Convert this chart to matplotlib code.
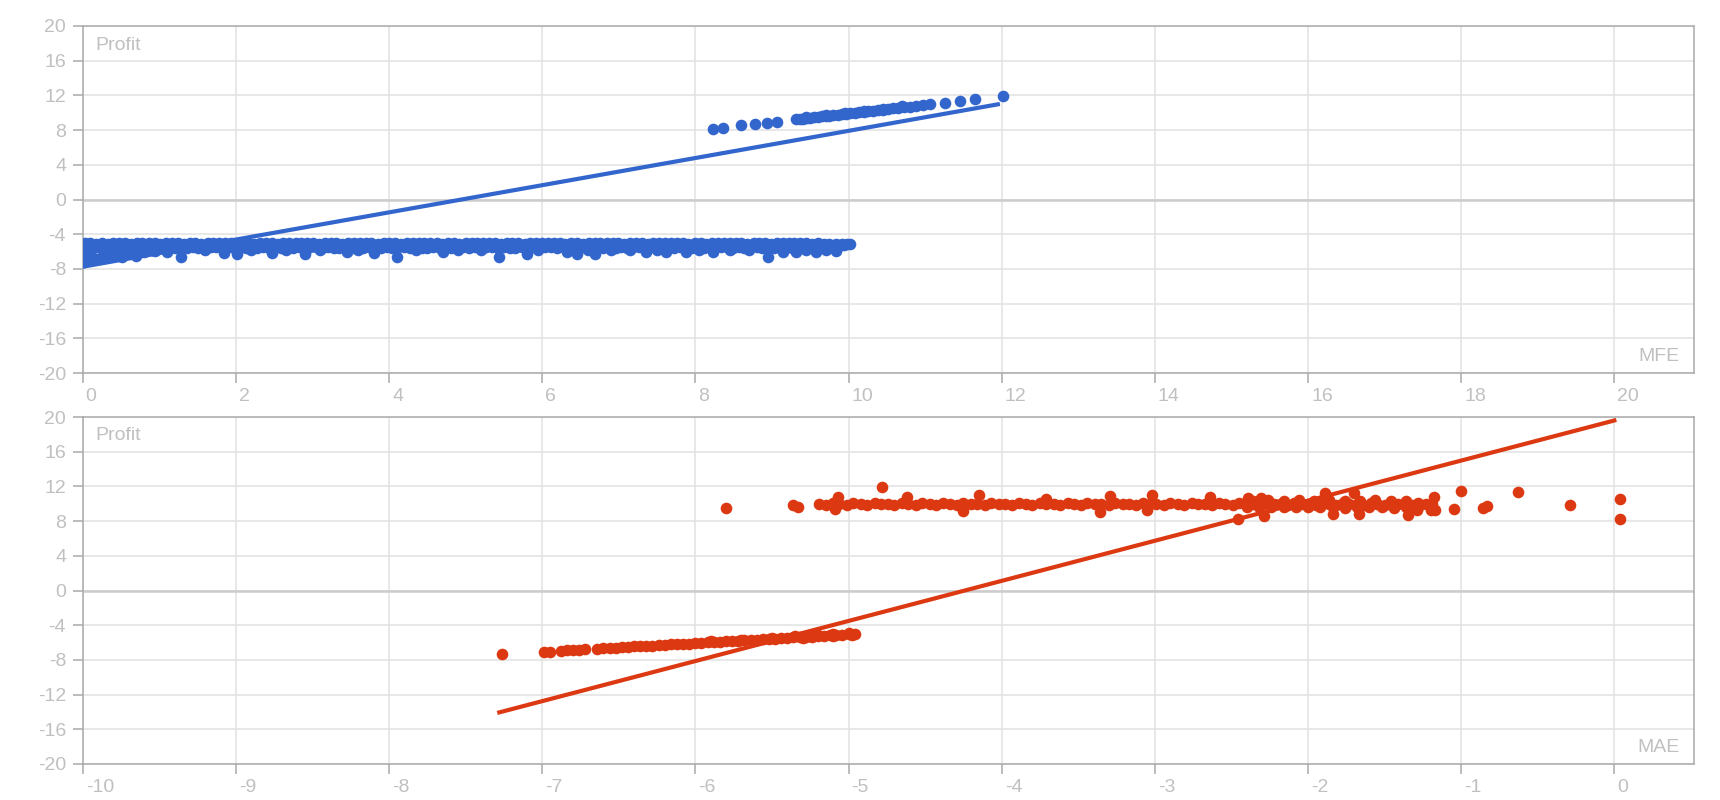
import numpy as np
import matplotlib.pyplot as plt
import matplotlib.transforms as mtransforms

plt.rcParams['font.family'] = ['Liberation Sans', 'DejaVu Sans']
plt.rcParams['axes.unicode_minus'] = False

BLUE = '#3366cc'
RED = '#dc3912'

# ---- MFE vs Profit (top chart) ----
mfe_band_top = [
    (0.03, -5.05), (0.10, -5.02), (0.17, -5.08), (0.25, -5.04), (0.33, -5.10), (0.40, -5.03), (0.48, -5.06), (0.55, -5.01), (0.63, -5.09), (0.71, -5.04),
    (0.78, -5.07), (0.86, -5.03), (0.94, -5.05), (1.01, -5.11), (1.09, -5.02), (1.17, -5.06), (1.24, -5.04), (1.32, -5.08), (1.40, -5.03), (1.47, -5.05),
    (1.55, -5.09), (1.63, -5.02), (1.70, -5.06), (1.78, -5.04), (1.86, -5.07), (1.93, -5.03), (2.01, -5.10), (2.09, -5.05), (2.16, -5.02), (2.24, -5.08),
    (2.32, -5.04), (2.39, -5.06), (2.47, -5.03), (2.55, -5.09), (2.62, -5.05), (2.70, -5.02), (2.78, -5.07), (2.85, -5.04), (2.93, -5.06), (3.01, -5.03),
    (3.08, -5.08), (3.16, -5.05), (3.24, -5.02), (3.31, -5.06), (3.39, -5.10), (3.47, -5.04), (3.54, -5.03), (3.62, -5.07), (3.70, -5.05), (3.77, -5.02),
    (3.85, -5.09), (3.93, -5.04), (4.00, -5.06), (4.08, -5.03), (4.16, -5.08), (4.23, -5.05), (4.31, -5.02), (4.39, -5.07), (4.46, -5.04), (4.54, -5.06),
    (4.62, -5.03), (4.69, -5.09), (4.77, -5.05), (4.85, -5.02), (4.92, -5.08), (5.00, -5.04), (5.08, -5.06), (5.15, -5.03), (5.23, -5.07), (5.31, -5.05),
    (5.38, -5.02), (5.46, -5.10), (5.54, -5.04), (5.61, -5.06), (5.69, -5.03), (5.77, -5.08), (5.84, -5.05), (5.92, -5.02), (6.00, -5.07), (6.07, -5.04),
    (6.15, -5.06), (6.23, -5.03), (6.30, -5.09), (6.38, -5.05), (6.46, -5.02), (6.53, -5.08), (6.61, -5.04), (6.69, -5.06), (6.76, -5.03), (6.84, -5.07),
    (6.92, -5.05), (6.99, -5.02), (7.07, -5.09), (7.15, -5.04), (7.22, -5.06), (7.30, -5.03), (7.38, -5.08), (7.45, -5.05), (7.53, -5.02), (7.61, -5.07),
    (7.68, -5.04), (7.76, -5.06), (7.84, -5.03), (7.91, -5.10), (7.99, -5.05), (8.07, -5.02), (8.14, -5.08), (8.22, -5.04), (8.30, -5.06), (8.37, -5.03),
    (8.45, -5.07), (8.53, -5.05), (8.60, -5.02), (8.68, -5.09), (8.76, -5.04), (8.83, -5.06), (8.91, -5.03), (8.99, -5.08), (9.06, -5.05), (9.14, -5.02),
    (9.22, -5.07), (9.29, -5.04), (9.37, -5.06), (9.45, -5.03), (9.52, -5.09), (9.60, -5.05), (9.68, -5.08), (9.75, -5.10), (9.83, -5.12), (9.91, -5.10),
    (9.98, -5.13),
]
mfe_band_bottom = [
    (0.06, -5.50), (0.14, -5.56), (0.21, -5.47), (0.29, -5.58), (0.37, -5.52), (0.44, -5.60), (0.52, -5.48), (0.60, -5.55), (0.67, -5.62), (0.75, -5.50),
    (0.82, -5.57), (0.90, -5.46), (0.98, -5.54), (1.05, -5.60), (1.13, -5.49), (1.21, -5.56), (1.28, -5.51), (1.36, -5.58), (1.44, -5.47), (1.51, -5.55),
    (1.59, -5.61), (1.67, -5.50), (1.74, -5.53), (1.82, -5.59), (1.90, -5.48), (1.97, -5.56), (2.05, -5.52), (2.13, -5.60), (2.20, -5.47), (2.28, -5.54),
    (2.36, -5.50), (2.43, -5.58), (2.51, -5.46), (2.59, -5.55), (2.66, -5.51), (2.74, -5.59), (2.82, -5.49), (2.89, -5.56), (2.97, -5.52), (3.05, -5.47),
    (3.12, -5.57), (3.20, -5.50), (3.28, -5.54), (3.35, -5.61), (3.43, -5.48), (3.51, -5.55), (3.58, -5.51), (3.66, -5.58), (3.74, -5.46), (3.81, -5.53),
    (3.89, -5.60), (3.97, -5.49), (4.04, -5.56), (4.12, -5.52), (4.20, -5.47), (4.27, -5.57), (4.35, -5.50), (4.43, -5.54), (4.50, -5.59), (4.58, -5.48),
    (4.66, -5.55), (4.73, -5.51), (4.81, -5.58), (4.89, -5.46), (4.96, -5.53), (5.04, -5.60), (5.12, -5.49), (5.19, -5.56), (5.27, -5.52), (5.35, -5.47),
    (5.42, -5.57), (5.50, -5.50), (5.58, -5.54), (5.65, -5.59), (5.73, -5.48), (5.81, -5.55), (5.88, -5.51), (5.96, -5.58), (6.04, -5.46), (6.11, -5.53),
    (6.19, -5.60), (6.27, -5.49), (6.34, -5.56), (6.42, -5.52), (6.50, -5.47), (6.57, -5.57), (6.65, -5.50), (6.73, -5.54), (6.80, -5.59), (6.88, -5.48),
    (6.96, -5.55), (7.03, -5.51), (7.11, -5.58), (7.19, -5.46), (7.26, -5.53), (7.34, -5.60), (7.42, -5.49), (7.49, -5.56), (7.57, -5.52), (7.65, -5.47),
    (7.72, -5.57), (7.80, -5.50), (7.88, -5.54), (7.95, -5.59), (8.03, -5.48), (8.11, -5.55), (8.18, -5.51), (8.26, -5.58), (8.34, -5.46), (8.41, -5.53),
    (8.49, -5.60), (8.57, -5.49), (8.64, -5.56), (8.72, -5.52), (8.80, -5.47), (8.87, -5.57), (8.95, -5.50), (9.03, -5.54), (9.10, -5.59), (9.18, -5.48),
    (9.26, -5.55), (9.33, -5.51), (9.41, -5.58), (9.49, -5.46), (9.56, -5.53), (9.64, -5.50), (9.72, -5.45), (9.79, -5.42), (9.87, -5.38), (9.94, -5.30),
]
mfe_band_low = [
    (0.00, -5.30), (0.00, -5.90), (0.01, -6.40), (0.01, -6.90), (0.02, -7.25), (0.05, -6.95), (0.07, -6.60), (0.10, -6.30),
    (0.14, -6.70), (0.23, -6.75), (0.30, -6.35), (0.40, -6.40), (0.51, -6.60), (0.58, -6.15), (0.70, -6.55), (0.80, -6.05),
    (0.95, -5.95), (1.10, -6.05), (1.29, -6.60), (1.84, -6.15), (2.01, -6.25), (2.47, -6.15), (2.90, -6.30), (3.45, -6.10),
    (3.80, -6.20), (4.10, -6.60), (4.71, -6.10), (5.44, -6.60), (5.80, -6.25), (6.32, -6.10), (6.45, -6.30), (6.69, -6.30),
    (7.36, -6.00), (7.62, -6.00), (7.88, -6.00), (8.23, -6.00), (8.95, -6.60), (9.15, -6.00), (9.32, -6.10), (9.58, -6.00),
    (9.84, -5.90), (0.35, -5.85), (0.90, -5.80), (1.60, -5.85), (2.20, -5.80), (2.65, -5.85), (3.10, -5.80), (3.60, -5.85),
    (4.35, -5.80), (4.90, -5.85), (5.20, -5.80), (5.95, -5.85), (6.60, -5.80), (6.90, -5.85), (7.15, -5.80), (7.50, -5.85),
    (8.05, -5.80), (8.45, -5.85), (8.70, -5.80), (9.45, -5.85), (9.70, -5.80), (10.02, -5.13),
]
mfe_upper = [
    (8.23, 8.13), (8.36, 8.24), (8.59, 8.55), (8.78, 8.70), (8.94, 8.86), (9.06, 8.97),
    (9.32, 9.24), (9.36, 9.30), (9.41, 9.31), (9.46, 9.38), (9.50, 9.40), (9.55, 9.47), (9.60, 9.50), (9.65, 9.57),
    (9.70, 9.60), (9.75, 9.68), (9.80, 9.71), (9.86, 9.78), (9.91, 9.82), (9.97, 9.88), (10.02, 9.93), (10.08, 10.00),
    (10.14, 10.05), (10.20, 10.12), (10.26, 10.17), (10.32, 10.24), (10.38, 10.29), (10.45, 10.36), (10.52, 10.42),
    (10.58, 10.49), (10.65, 10.55), (10.72, 10.62), (10.80, 10.70), (10.88, 10.78), (10.97, 10.87), (11.06, 10.97),
    (9.45, 9.47), (9.70, 9.72), (9.95, 9.97), (10.20, 10.22), (10.45, 10.47), (10.70, 10.73),
    (11.26, 11.16), (11.46, 11.35), (11.65, 11.55), (12.02, 11.97),
]
mfe_trend_x = [0.0, 11.95]
mfe_trend_y = [-7.75, 10.97]

# ---- MAE vs Profit (bottom chart) ----
mae_band_low = [
    (-7.26, -7.32), (-6.99, -7.05), (-6.95, -7.04),
    (-6.88, -6.94), (-6.84, -6.91), (-6.80, -6.85), (-6.76, -6.83), (-6.72, -6.78),
    (-6.64, -6.70), (-6.60, -6.67), (-6.56, -6.61), (-6.52, -6.59), (-6.48, -6.53), (-6.44, -6.51), (-6.40, -6.45), (-6.36, -6.43),
    (-6.32, -6.37), (-6.28, -6.35), (-6.24, -6.29), (-6.20, -6.27), (-6.16, -6.21), (-6.12, -6.19), (-6.08, -6.13), (-6.04, -6.11),
    (-6.00, -6.05), (-5.96, -6.03), (-5.92, -5.97), (-5.88, -5.95), (-5.84, -5.89), (-5.80, -5.87), (-5.76, -5.81), (-5.72, -5.79),
    (-5.68, -5.73), (-5.64, -5.71), (-5.60, -5.65), (-5.56, -5.63), (-5.52, -5.57), (-5.48, -5.55), (-5.44, -5.49), (-5.40, -5.47),
    (-5.36, -5.41), (-5.32, -5.39), (-5.28, -5.33), (-5.24, -5.31), (-5.20, -5.25), (-5.16, -5.23), (-5.12, -5.17), (-5.08, -5.15),
    (-5.04, -5.09), (-5.00, -5.07), (-4.96, -5.01),
    (-5.90, -5.85), (-5.70, -5.66), (-5.50, -5.46), (-5.35, -5.30), (-5.20, -5.14), (-5.10, -5.02), (-5.00, -4.93),
    (-5.30, -5.48), (-5.10, -5.28), (-4.98, -5.12),
]
mae_band_high = [
    (-5.19, 10.02), (-5.15, 9.90), (-5.10, 10.08), (-5.06, 9.94), (-5.01, 9.85), (-4.97, 10.05), (-4.92, 9.97), (-4.88, 9.88), (-4.83, 10.10), (-4.79, 9.92),
    (-4.74, 10.00), (-4.70, 9.86), (-4.65, 10.06), (-4.61, 9.95), (-4.56, 9.89), (-4.52, 10.08), (-4.47, 9.93), (-4.43, 9.84), (-4.38, 10.03), (-4.34, 9.96),
    (-4.29, 9.87), (-4.25, 10.07), (-4.20, 9.94), (-4.16, 10.01), (-4.11, 9.86), (-4.07, 10.09), (-4.02, 9.92), (-3.98, 9.98), (-3.93, 9.85), (-3.89, 10.05),
    (-3.84, 9.95), (-3.80, 9.88), (-3.75, 10.08), (-3.71, 9.93), (-3.66, 10.00), (-3.62, 9.86), (-3.57, 10.06), (-3.53, 9.96), (-3.48, 9.89), (-3.44, 10.04),
    (-3.39, 9.92), (-3.35, 9.99), (-3.30, 9.85), (-3.26, 10.07), (-3.21, 9.94), (-3.17, 10.02), (-3.12, 9.87), (-3.08, 10.09), (-3.03, 9.93), (-2.99, 9.97),
    (-2.94, 9.86), (-2.90, 10.05), (-2.85, 9.95), (-2.81, 9.88), (-2.76, 10.08), (-2.72, 9.92), (-2.67, 10.01), (-2.63, 9.85), (-2.58, 10.06), (-2.54, 9.96),
    (-2.49, 9.89), (-2.45, 10.04), (-2.40, 9.93), (-2.36, 10.00), (-2.31, 9.86), (-2.27, 10.07), (-2.22, 9.94), (-2.18, 10.02), (-2.13, 9.87), (-2.09, 10.09),
    (-2.04, 9.93), (-2.00, 9.97), (-1.95, 9.86), (-1.91, 10.05), (-1.86, 9.95), (-1.82, 9.88), (-1.77, 10.08), (-1.73, 9.92), (-1.68, 10.01), (-1.64, 9.85),
    (-1.59, 10.06), (-1.55, 9.96), (-1.50, 9.89), (-1.46, 10.04), (-1.41, 9.93), (-1.37, 10.00), (-1.32, 9.86), (-1.28, 10.07), (-1.23, 9.94), (-1.19, 10.02),
    (-2.40, 9.60), (-2.32, 9.65), (-2.24, 9.58), (-2.16, 9.63), (-2.08, 9.57), (-2.00, 9.64), (-1.92, 9.59), (-1.84, 9.62),
    (-1.76, 9.56), (-1.68, 9.63), (-1.60, 9.58), (-1.52, 9.61), (-1.44, 9.55), (-1.36, 9.62), (-1.28, 9.57), (-1.20, 9.60),
    (-2.36, 10.35), (-2.26, 10.40), (-2.16, 10.33), (-2.06, 10.38), (-1.96, 10.34), (-1.86, 10.41), (-1.76, 10.36), (-1.66, 10.32),
    (-1.56, 10.38), (-1.46, 10.33), (-1.36, 10.37),
]
mae_scatter = [
    (-5.80, 9.50), (-5.36, 9.85), (-5.33, 9.65), (-4.78, 11.97),
    (-5.07, 10.80), (-4.62, 10.80), (-4.15, 11.00), (-3.71, 10.60), (-3.29, 10.90), (-3.02, 11.00), (-2.64, 10.80),
    (-2.39, 10.70), (-2.31, 10.70), (-1.89, 11.20), (-1.70, 11.25), (-1.18, 10.80),
    (-5.09, 9.36), (-4.25, 9.20), (-3.36, 9.10), (-3.05, 9.30), (-1.84, 8.85), (-1.67, 8.85), (-1.35, 8.65),
    (-1.29, 9.30), (-1.20, 9.30), (-1.17, 9.30), (-2.46, 8.20), (-2.29, 8.55),
    (-1.00, 11.50), (-1.05, 9.40), (-0.86, 9.47), (-0.83, 9.78), (-0.63, 11.35), (-0.29, 9.86),
    (0.035, 10.55), (0.035, 8.24),
]
mae_trend_x = [-7.28, 0.0]
mae_trend_y = [-14.05, 19.6]

y_ticks = list(range(-20, 21, 4))
mfe_ticks = list(range(0, 21, 2))
mae_ticks = list(range(-10, 1, 1))


def style(ax, xticks, xlim, name):
    ax.set_xlim(*xlim)
    ax.set_ylim(-20, 20)
    ax.set_xticks(xticks)
    ax.set_yticks(y_ticks)
    ax.grid(True, color='#e2e2e2', lw=1.1)
    ax.set_axisbelow(True)
    ax.axhline(0, color='#cccccc', lw=1.8, zorder=1)
    for s in ax.spines.values():
        s.set_color('#aaaaaa')
        s.set_linewidth(1.1)
    ax.tick_params(direction='out', length=7.5, width=1.1, color='#aaaaaa',
                   labelcolor='#c0c0c0', labelsize=14)
    ax.tick_params(axis='x', pad=3)
    ax.tick_params(axis='y', pad=4.5)
    shift = mtransforms.ScaledTranslation(3 / 100, 0, fig.dpi_scale_trans)
    for lab in ax.get_xticklabels():
        lab.set_horizontalalignment('left')
        lab.set_transform(lab.get_transform() + shift)
    ax.annotate('Profit', xy=(0, 1), xycoords='axes fraction', xytext=(13, -19),
                textcoords='offset pixels', ha='left', va='center', fontsize=14, color='#c0c0c0')
    ax.annotate(name, xy=(1, 0), xycoords='axes fraction', xytext=(-14, 17),
                textcoords='offset pixels', ha='right', va='center', fontsize=14, color='#c0c0c0')


fig = plt.figure(figsize=(17.2, 8), dpi=100)
ax1 = fig.add_axes([82.7 / 1720, 1 - 373 / 800, (1694 - 82.7) / 1720, 347 / 800])
ax2 = fig.add_axes([82.7 / 1720, 1 - 764 / 800, (1694 - 82.7) / 1720, 347 / 800])

mfe = np.array(mfe_band_top + mfe_band_bottom + mfe_band_low + mfe_upper)
ax1.scatter(mfe[:, 0], mfe[:, 1], s=70, color=BLUE, linewidths=0, zorder=3)
ax1.plot(mfe_trend_x, mfe_trend_y, color=BLUE, lw=3, zorder=4)
style(ax1, mfe_ticks, (0, 21.04), 'MFE')

mae = np.array(mae_band_low + mae_band_high + mae_scatter)
ax2.scatter(mae[:, 0], mae[:, 1], s=70, color=RED, linewidths=0, zorder=3)
ax2.plot(mae_trend_x, mae_trend_y, color=RED, lw=3, zorder=4)
style(ax2, mae_ticks, (-10, 0.52), 'MAE')

fig.savefig('out.png', dpi=100)
